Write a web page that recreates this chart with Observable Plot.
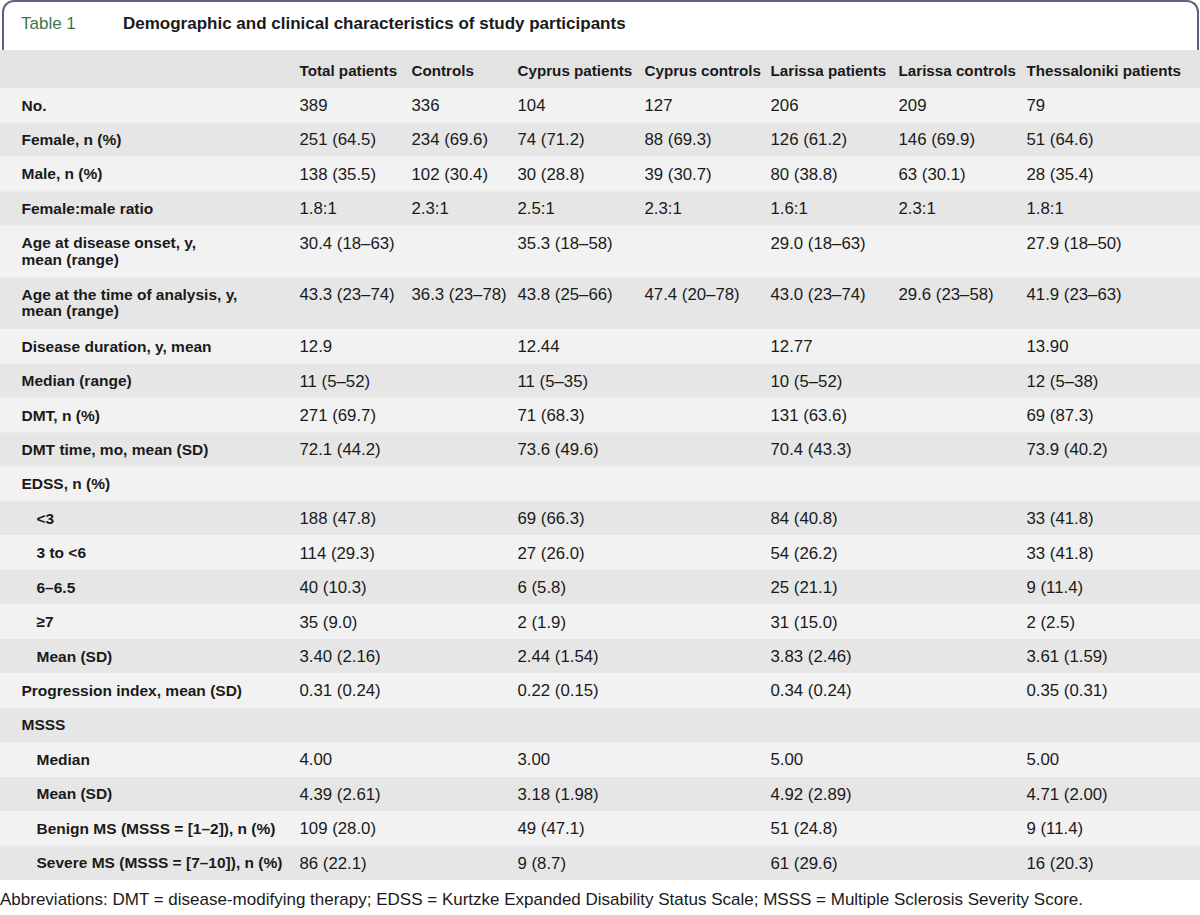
<!DOCTYPE html>
<html>
<head>
<meta charset="utf-8">
<script src="https://cdn.jsdelivr.net/npm/d3@7"></script>
<script src="https://cdn.jsdelivr.net/npm/@observablehq/plot@0.6"></script>
<style>
  html, body { margin: 0; padding: 0; background: #ffffff; }
  body { width: 1200px; font-family: "Liberation Sans", Arial, sans-serif; color: #1a1a1a; }
  #titlebox {
    position: relative; box-sizing: border-box; height: 50px; width: 1197px; margin-left: 2px;
    border: 2px solid #6c5b80; border-bottom: none; border-radius: 12px 12px 0 0;
  }
  #titlebox .tnum { position: absolute; left: 17px; top: 12px; font-size: 17px; color: #437552; }
  #titlebox .ttext { position: absolute; left: 119px; top: 12px; font-size: 17px; font-weight: bold; color: #1a1a1a; }
  #chart svg { display: block; }
  #caption { font-size: 17px; padding-top: 10px; line-height: 20px; color: #1a1a1a; white-space: nowrap; }
</style>
</head>
<body>
<div id="titlebox"><span class="tnum">Table 1</span><span class="ttext">Demographic and clinical characteristics of study participants</span></div>
<div id="chart"></div>
<div id="caption">Abbreviations: DMT = disease-modifying therapy; EDSS = Kurtzke Expanded Disability Status Scale; MSSS = Multiple Sclerosis Severity Score.</div>
<script>
// ---- data ----
const columns = ["Total patients", "Controls", "Cyprus patients", "Cyprus controls", "Larissa patients", "Larissa controls", "Thessaloniki patients"];

const rowLabels = [
  "No.", "Female, n (%)", "Male, n (%)", "Female:male ratio",
  "Age at disease onset, y,\nmean (range)", "Age at the time of analysis, y,\nmean (range)",
  "Disease duration, y, mean", "Median (range)", "DMT, n (%)", "DMT time, mo, mean (SD)",
  "EDSS, n (%)", "<3", "3 to <6", "6–6.5", "≥7", "Mean (SD)",
  "Progression index, mean (SD)", "MSSS", "Median", "Mean (SD)",
  "Benign MS (MSSS = [1–2]), n (%)", "Severe MS (MSSS = [7–10]), n (%)"
];
const indented = [false, false, false, false, false, false, false, false, false, false,
  false, true, true, true, true, true, false, false, true, true, true, true];

const totalPatients = ["389", "251 (64.5)", "138 (35.5)", "1.8:1", "30.4 (18–63)", "43.3 (23–74)", "12.9", "11 (5–52)", "271 (69.7)", "72.1 (44.2)", "", "188 (47.8)", "114 (29.3)", "40 (10.3)", "35 (9.0)", "3.40 (2.16)", "0.31 (0.24)", "", "4.00", "4.39 (2.61)", "109 (28.0)", "86 (22.1)"];
const controls = ["336", "234 (69.6)", "102 (30.4)", "2.3:1", "", "36.3 (23–78)", "", "", "", "", "", "", "", "", "", "", "", "", "", "", "", ""];
const cyprusPatients = ["104", "74 (71.2)", "30 (28.8)", "2.5:1", "35.3 (18–58)", "43.8 (25–66)", "12.44", "11 (5–35)", "71 (68.3)", "73.6 (49.6)", "", "69 (66.3)", "27 (26.0)", "6 (5.8)", "2 (1.9)", "2.44 (1.54)", "0.22 (0.15)", "", "3.00", "3.18 (1.98)", "49 (47.1)", "9 (8.7)"];
const cyprusControls = ["127", "88 (69.3)", "39 (30.7)", "2.3:1", "", "47.4 (20–78)", "", "", "", "", "", "", "", "", "", "", "", "", "", "", "", ""];
const larissaPatients = ["206", "126 (61.2)", "80 (38.8)", "1.6:1", "29.0 (18–63)", "43.0 (23–74)", "12.77", "10 (5–52)", "131 (63.6)", "70.4 (43.3)", "", "84 (40.8)", "54 (26.2)", "25 (21.1)", "31 (15.0)", "3.83 (2.46)", "0.34 (0.24)", "", "5.00", "4.92 (2.89)", "51 (24.8)", "61 (29.6)"];
const larissaControls = ["209", "146 (69.9)", "63 (30.1)", "2.3:1", "", "29.6 (23–58)", "", "", "", "", "", "", "", "", "", "", "", "", "", "", "", ""];
const thessalonikiPatients = ["79", "51 (64.6)", "28 (35.4)", "1.8:1", "27.9 (18–50)", "41.9 (23–63)", "13.90", "12 (5–38)", "69 (87.3)", "73.9 (40.2)", "", "33 (41.8)", "33 (41.8)", "9 (11.4)", "2 (2.5)", "3.61 (1.59)", "0.35 (0.31)", "", "5.00", "4.71 (2.00)", "9 (11.4)", "16 (20.3)"];

const seriesValues = [totalPatients, controls, cyprusPatients, cyprusControls, larissaPatients, larissaControls, thessalonikiPatients];

// ---- build table rows (row units: single line = 1, two lines = 1.5) ----
const headerUnits = 1.1;
let cursor = headerUnits;
const rows = rowLabels.map((label, i) => {
  const lines = label.split("\n");
  const h = lines.length > 1 ? 1.5 : 1;
  const r = {i, label, lines, indent: indented[i], y1: cursor, y2: cursor + h, mid: cursor + 0.5, shade: i % 2 === 0 ? "light" : "dark"};
  cursor += h;
  return r;
});
const totalUnits = cursor;

const bands = [{y1: 0, y2: headerUnits, shade: "head"}, ...rows.map(r => ({y1: r.y1, y2: r.y2, shade: r.shade}))];
const headers = columns.map((c, j) => ({col: j + 1, text: c, mid: headerUnits / 2 + 0.04}));
const firstLines = rows.map(r => ({col: 0, text: r.lines[0], mid: r.mid, indent: r.indent}));
const secondLines = rows.filter(r => r.lines.length > 1).map(r => ({col: 0, text: r.lines[1], mid: r.mid, indent: r.indent}));
const cells = [];
seriesValues.forEach((vals, j) => vals.forEach((v, i) => { if (v) cells.push({col: j + 1, text: v, mid: rows[i].mid}); }));

const chart = Plot.plot({
  width: 1200,
  height: 830,
  margin: 0,
  style: {fontFamily: '"Liberation Sans", Arial, sans-serif', background: "#ffffff", color: "#1a1a1a"},
  x: {type: "linear", domain: [0, 1, 2, 3, 4, 5, 6, 7], range: [21, 299, 411, 517, 644, 770, 898, 1026], axis: null},
  y: {type: "linear", domain: [0, totalUnits], range: [0, 830], axis: null},
  color: {type: "ordinal", domain: ["head", "dark", "light"], range: ["#e3e3e3", "#e6e6e6", "#f2f2f2"]},
  marks: [
    Plot.rect(bands, {y1: "y1", y2: "y2", fill: "shade"}),
    Plot.text(headers, {x: "col", y: "mid", text: "text", textAnchor: "start", fontWeight: "bold", fontSize: 15.2, fill: "#1a1a1a"}),
    Plot.text(firstLines.filter(d => !d.indent), {x: "col", y: "mid", text: "text", textAnchor: "start", fontWeight: "bold", fontSize: 15.5, fill: "#1a1a1a"}),
    Plot.text(firstLines.filter(d => d.indent), {x: "col", y: "mid", text: "text", textAnchor: "start", dx: 15, fontWeight: "bold", fontSize: 15.5, fill: "#1a1a1a"}),
    Plot.text(secondLines, {x: "col", y: "mid", text: "text", textAnchor: "start", dy: 16.5, fontWeight: "bold", fontSize: 15.5, fill: "#1a1a1a"}),
    Plot.text(cells, {x: "col", y: "mid", text: "text", textAnchor: "start", fontSize: 16.8, fill: "#1a1a1a"})
  ]
});
document.getElementById("chart").appendChild(chart);
</script>
</body>
</html>
